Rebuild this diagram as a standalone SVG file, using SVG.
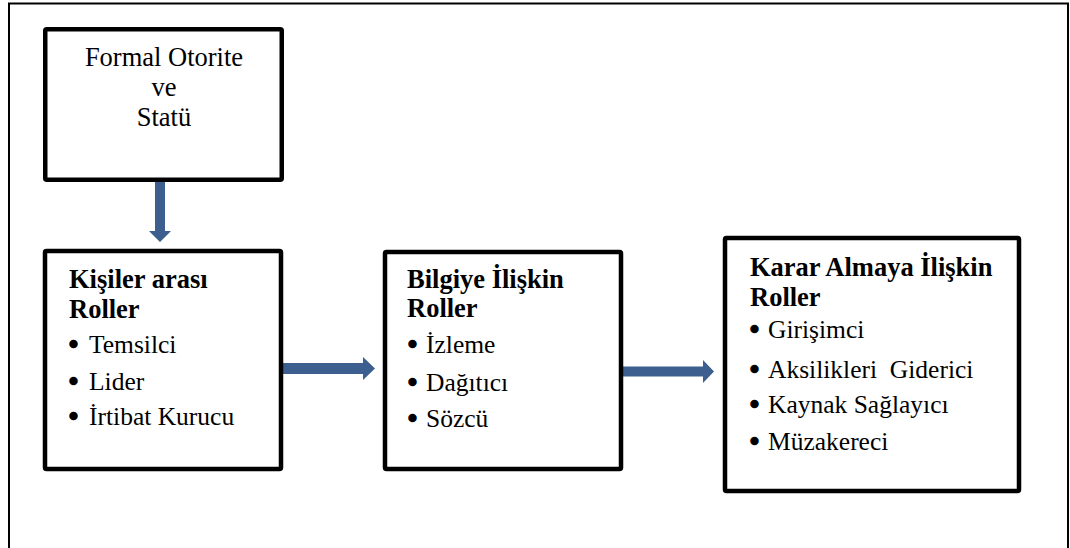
<svg xmlns="http://www.w3.org/2000/svg" width="1070" height="548" viewBox="0 0 1070 548">
  <style>
    .frame { fill: none; stroke: #000; stroke-width: 2; }
    .box { fill: #fff; stroke: #000; stroke-width: 4.5; stroke-linejoin: round; }
    .arrow { fill: #3C5F8F; }
    text { font-family: "Liberation Serif", "Times New Roman", serif; font-size: 25.5px; fill: #000; }
    .title { font-weight: bold; font-size: 26.5px; }
    .head { font-size: 26.5px; text-anchor: middle; }
    .dot { stroke: #000; stroke-width: 2.4; }
  </style>
  <rect width="1070" height="548" fill="#fff"/>
  <!-- outer border, open at the bottom edge of the page -->
  <path class="frame" d="M9,548 V3.5 H1068 V548"/>

  <g id="connectors">
    <!-- Formal Otorite -> Kişiler arası Roller (down) -->
    <polygon class="arrow" points="155,182 165,182 165,231 171,231 160,242 149,231 155,231"/>
    <!-- Kişiler arası -> Bilgiye -->
    <polygon class="arrow" points="283,363 363,363 363,357 375,368.5 363,380 363,374 283,374"/>
    <!-- Bilgiye -> Karar Almaya -->
    <polygon class="arrow" points="623,366.5 703,366.5 703,360 714,371.5 703,383 703,376.5 623,376.5"/>
  </g>

  <g id="node-formal-otorite">
    <rect class="box" x="45.25" y="29.25" width="236.5" height="150.5" rx="1.5"/>
    <text class="head" x="164" y="66">Formal Otorite</text>
    <text class="head" x="164" y="96">ve</text>
    <text class="head" x="164" y="126">Statü</text>
  </g>

  <g id="node-kisiler-arasi">
    <rect class="box" x="45" y="251" width="236" height="218" rx="1.5"/>
    <text class="title" x="69" y="288">Kişiler arası</text>
    <text class="title" x="69" y="318">Roller</text>
    <text class="dot" x="69" y="353">•</text><text x="89" y="353">Temsilci</text>
    <text class="dot" x="69" y="390">•</text><text x="89" y="390">Lider</text>
    <text class="dot" x="69" y="425">•</text><text x="89" y="425">İrtibat Kurucu</text>
  </g>

  <g id="node-bilgiye-iliskin">
    <rect class="box" x="385" y="252" width="236" height="217" rx="1.5"/>
    <text class="title" x="407" y="288">Bilgiye İlişkin</text>
    <text class="title" x="407" y="317">Roller</text>
    <text class="dot" x="408" y="353">•</text><text x="426" y="353">İzleme</text>
    <text class="dot" x="408" y="391">•</text><text x="426" y="391">Dağıtıcı</text>
    <text class="dot" x="408" y="427">•</text><text x="426" y="427">Sözcü</text>
  </g>

  <g id="node-karar-almaya">
    <rect class="box" x="725" y="238" width="294" height="253" rx="1.5"/>
    <text class="title" x="750" y="276">Karar Almaya İlişkin</text>
    <text class="title" x="750" y="306">Roller</text>
    <text class="dot" x="750" y="338">•</text><text x="768" y="338">Girişimci</text>
    <text class="dot" x="750" y="378">•</text><text x="768" y="378" xml:space="preserve">Aksilikleri  Giderici</text>
    <text class="dot" x="750" y="413">•</text><text x="768" y="413">Kaynak Sağlayıcı</text>
    <text class="dot" x="750" y="450">•</text><text x="768" y="450">Müzakereci</text>
  </g>
</svg>
